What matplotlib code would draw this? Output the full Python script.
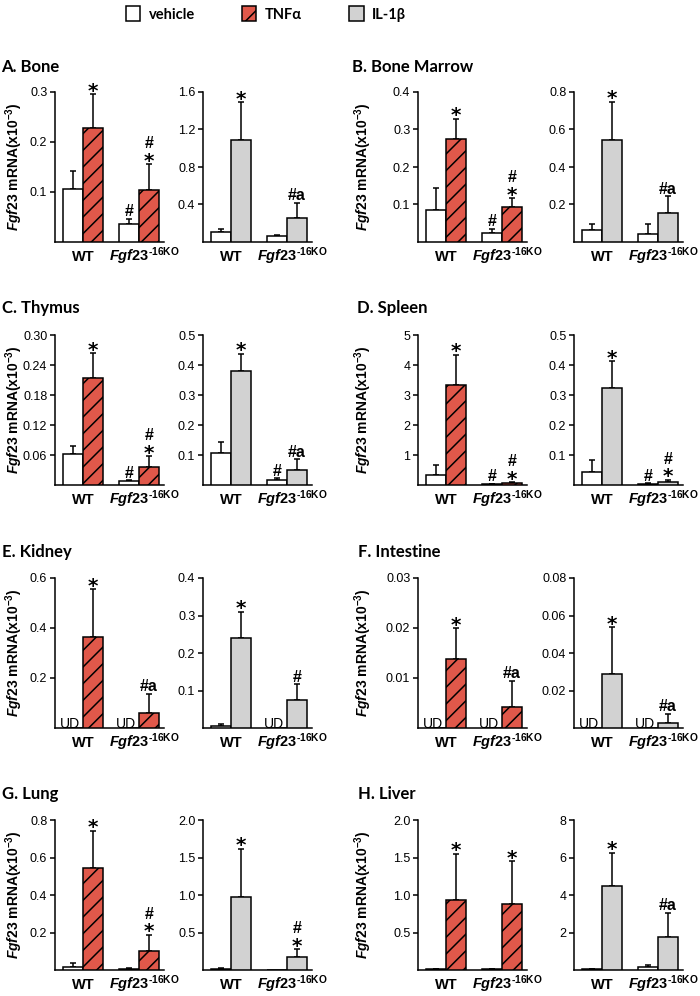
import numpy as np
import matplotlib
matplotlib.use("Agg")
import matplotlib.pyplot as plt
from matplotlib.patches import Patch

plt.rcParams['font.family'] = ['Liberation Sans', 'DejaVu Sans']
plt.rcParams['mathtext.fontset'] = 'custom'
plt.rcParams['mathtext.rm'] = 'Liberation Sans:bold'
plt.rcParams['mathtext.it'] = 'Liberation Sans:italic:bold'
plt.rcParams['mathtext.bf'] = 'Liberation Sans:bold'
plt.rcParams['hatch.linewidth'] = 1.1

NA = np.nan

# ---------------- data ----------------
panel_titles = ["A. Bone", "B. Bone Marrow", "C. Thymus", "D. Spleen",
                "E. Kidney", "F. Intestine", "G. Lung", "H. Liver"]
genotypes = ["WT", r"$\mathit{Fgf23}^{\text{-16KO}}$"]
legend_labels = ["vehicle", "TNFα", "IL-1β"]
ylabel_text = r"$\mathit{Fgf23}$ mRNA(x10$^{\mathrm{-3}}$)"

# TNFα experiment, each entry = [WT, Fgf23-16KO]; NaN = undetectable (UD)
tnf_vehicle = [[0.105, 0.036], [0.085, 0.024], [0.0616, 0.008], [0.33, 0.03],
               [NA, NA], [NA, NA], [0.016, 0.005], [0.01, 0.01]]
tnf_vehicle_err = [[0.037, 0.010], [0.059, 0.011], [0.017, 0.002], [0.34, 0.02],
                   [0, 0], [0, 0], [0.021, 0.005], [0.01, 0.01]]
tnf_treated = [[0.228, 0.104], [0.275, 0.093], [0.215, 0.036], [3.35, 0.06],
               [0.365, 0.06], [0.0138, 0.0042], [0.542, 0.10], [0.94, 0.88]]
tnf_treated_err = [[0.068, 0.052], [0.053, 0.024], [0.049, 0.022], [1.0, 0.03],
                   [0.19, 0.077], [0.0062, 0.0052], [0.20, 0.088], [0.61, 0.57]]
tnf_vehicle_marks = [["", "#"], ["", "#"], ["", "#"], ["", "#"],
                     ["", ""], ["", ""], ["", ""], ["", ""]]
tnf_treated_marks = [["*", "#*"], ["*", "#*"], ["*", "#*"], ["*", "#*"],
                     ["*", "#a"], ["*", "#a"], ["*", "#*"], ["*", "*"]]
tnf_ymax = [0.3, 0.4, 0.30, 5, 0.6, 0.03, 0.8, 2.0]
tnf_ticks = [[0.1, 0.2, 0.3], [0.1, 0.2, 0.3, 0.4], [0.06, 0.12, 0.18, 0.24, 0.30],
             [1, 2, 3, 4, 5], [0.2, 0.4, 0.6], [0.01, 0.02, 0.03],
             [0.2, 0.4, 0.6, 0.8], [0.5, 1.0, 1.5, 2.0]]
tnf_ticklabels = [["0.1", "0.2", "0.3"], ["0.1", "0.2", "0.3", "0.4"],
                  ["0.06", "0.12", "0.18", "0.24", "0.30"], ["1", "2", "3", "4", "5"],
                  ["0.2", "0.4", "0.6"], ["0.01", "0.02", "0.03"],
                  ["0.2", "0.4", "0.6", "0.8"], ["0.5", "1.0", "1.5", "2.0"]]

# IL-1β experiment
il_vehicle = [[0.107, 0.065], [0.064, 0.043], [0.106, 0.017], [0.045, 0.003],
              [0.005, NA], [NA, NA], [0.02, 0.005], [0.05, 0.15]]
il_vehicle_err = [[0.033, 0.010], [0.032, 0.053], [0.036, 0.006], [0.04, 0.003],
                  [0.005, 0], [0, 0], [0.01, 0.0], [0.01, 0.10]]
il_treated = [[1.088, 0.256], [0.544, 0.155], [0.381, 0.05], [0.325, 0.011],
              [0.24, 0.075], [0.0288, 0.0027], [0.97, 0.18], [4.5, 1.77]]
il_treated_err = [[0.40, 0.16], [0.203, 0.09], [0.056, 0.036], [0.087, 0.006],
                  [0.07, 0.042], [0.025, 0.0048], [0.65, 0.10], [1.75, 1.28]]
il_vehicle_marks = [["", ""], ["", ""], ["", "#"], ["", "#"],
                    ["", ""], ["", ""], ["", ""], ["", ""]]
il_treated_marks = [["*", "#a"], ["*", "#a"], ["*", "#a"], ["*", "#*"],
                    ["*", "#"], ["*", "#a"], ["*", "#*"], ["*", "#a"]]
il_ymax = [1.6, 0.8, 0.5, 0.5, 0.4, 0.08, 2.0, 8]
il_ticks = [[0.4, 0.8, 1.2, 1.6], [0.2, 0.4, 0.6, 0.8], [0.1, 0.2, 0.3, 0.4, 0.5],
            [0.1, 0.2, 0.3, 0.4, 0.5], [0.1, 0.2, 0.3, 0.4], [0.02, 0.04, 0.06, 0.08],
            [0.5, 1.0, 1.5, 2.0], [2, 4, 6, 8]]
il_ticklabels = [["0.4", "0.8", "1.2", "1.6"], ["0.2", "0.4", "0.6", "0.8"],
                 ["0.1", "0.2", "0.3", "0.4", "0.5"], ["0.1", "0.2", "0.3", "0.4", "0.5"],
                 ["0.1", "0.2", "0.3", "0.4"], ["0.02", "0.04", "0.06", "0.08"],
                 ["0.5", "1.0", "1.5", "2.0"], ["2", "4", "6", "8"]]

# ---------------- style ----------------
RED = '#E0584A'
GRAY = '#D2D2D2'
W, H = 700, 996
BAR_W = 0.36
LW = 1.1

fig = plt.figure(figsize=(7, 9.96), dpi=100)


def rect(left, top, width, height):
    return [left / W, 1 - (top + height) / H, width / W, height / H]


def px2pt(p):
    return p * 72 / 100


def mark(ax, x, top, s):
    if not s:
        return
    star_kw = dict(textcoords='offset points', ha='center', va='baseline', fontsize=14.5,
                   fontweight='bold', family='DejaVu Sans', annotation_clip=False)
    hash_kw = dict(textcoords='offset points', ha='center', va='baseline', fontsize=11.5,
                   fontweight='bold', annotation_clip=False)
    if s == "*":
        ax.annotate("*", xy=(x, top), xytext=(0, px2pt(-2.5)), **star_kw)
    elif s == "#*":
        ax.annotate("*", xy=(x, top), xytext=(0, px2pt(-2.5)), **star_kw)
        ax.annotate("#", xy=(x, top), xytext=(0, px2pt(16)), **hash_kw)
    else:
        ax.annotate(s, xy=(x, top), xytext=(0, px2pt(2.5)), **hash_kw)


def draw(ax, veh, veh_err, trt, trt_err, veh_marks, trt_marks, color, hatch,
         ymax, ticks, ticklabels):
    x = np.arange(2)
    xv = x - BAR_W / 2
    xt = x + BAR_W / 2
    veh_arr = np.array(veh, dtype=float)
    trt_arr = np.array(trt, dtype=float)
    ax.bar(xv, np.nan_to_num(veh_arr), BAR_W, color='white', edgecolor='black',
           linewidth=LW, zorder=3)
    ax.bar(xt, trt_arr, BAR_W, color=color, edgecolor='black', linewidth=LW,
           hatch=hatch, zorder=3)
    for i in range(2):
        if np.isnan(veh_arr[i]):
            ax.text(xv[i] - 0.05, 0, "UD", ha='center', va='baseline', fontsize=10,
                    transform=ax.transData, zorder=5)
        else:
            if veh_err[i] > 0:
                ax.errorbar(xv[i], veh_arr[i], yerr=[[0], [veh_err[i]]], fmt='none',
                            ecolor='black', elinewidth=LW, capsize=2.5, capthick=LW,
                            zorder=2)
            mark(ax, xv[i], veh_arr[i] + veh_err[i], veh_marks[i])
        ax.errorbar(xt[i], trt_arr[i], yerr=[[0], [trt_err[i]]], fmt='none',
                    ecolor='black', elinewidth=LW, capsize=2.5, capthick=LW, zorder=2)
        mark(ax, xt[i], trt_arr[i] + trt_err[i], trt_marks[i])
    ax.set_xlim(-0.5, 1.45)
    ax.set_ylim(0, ymax)
    ax.set_yticks(ticks)
    ax.set_yticklabels(ticklabels, fontsize=9)
    ax.set_xticks([])
    ax.spines['top'].set_visible(False)
    ax.spines['right'].set_visible(False)
    ax.spines['left'].set_linewidth(LW)
    ax.spines['bottom'].set_linewidth(LW)
    ax.tick_params(axis='y', length=3.5, width=LW, pad=2)
    ax.patch.set_alpha(0)
    off = -19 / 150
    ax.text(0, off, genotypes[0], transform=ax.get_xaxis_transform(), ha='center',
            va='baseline', fontsize=10.5, fontweight='bold')
    ax.text(1.1, off, genotypes[1], transform=ax.get_xaxis_transform(), ha='center',
            va='baseline', fontsize=10.5, fontweight='bold')


row_tops = [92, 335, 578, 820]
col_lefts = [[55, 203], [418, 574]]
title_pos = [(1, 67), (352, 67), (2, 308), (357, 308), (2, 552), (358, 552),
             (2, 794), (358, 794)]
ylabel_x = [14, 363]
AX_W, AX_H = 109, 150

for p in range(8):
    r, c = divmod(p, 2)
    top = row_tops[r]
    ax1 = fig.add_axes(rect(col_lefts[c][0], top, AX_W, AX_H))
    ax2 = fig.add_axes(rect(col_lefts[c][1], top, AX_W, AX_H))
    draw(ax1, tnf_vehicle[p], tnf_vehicle_err[p], tnf_treated[p], tnf_treated_err[p],
         tnf_vehicle_marks[p], tnf_treated_marks[p], RED, '//', tnf_ymax[p],
         tnf_ticks[p], tnf_ticklabels[p])
    draw(ax2, il_vehicle[p], il_vehicle_err[p], il_treated[p], il_treated_err[p],
         il_vehicle_marks[p], il_treated_marks[p], GRAY, None, il_ymax[p],
         il_ticks[p], il_ticklabels[p])
    tx, ty = title_pos[p]
    fig.text(tx / W, 1 - ty / H, panel_titles[p], ha='left', va='center',
             fontsize=12, fontweight='bold', family=['Lato', 'DejaVu Sans'])
    fig.text(ylabel_x[c] / W, 1 - (top + 75) / H, ylabel_text, rotation=90,
             ha='center', va='center', fontsize=10, fontweight='bold')

handles = [Patch(facecolor='white', edgecolor='black', linewidth=LW),
           Patch(facecolor=RED, edgecolor='black', linewidth=LW, hatch='/'),
           Patch(facecolor=GRAY, edgecolor='black', linewidth=LW)]
fig.legend(handles, legend_labels, loc='center', bbox_to_anchor=(266 / W, 1 - 14 / H),
           ncol=3, frameon=False, handlelength=1.0, handleheight=1.2,
           handletextpad=0.6, columnspacing=3.2,
           prop={'family': ['Lato', 'DejaVu Sans'], 'weight': 'bold', 'size': 10.5})

fig.savefig("out.png", dpi=100)
